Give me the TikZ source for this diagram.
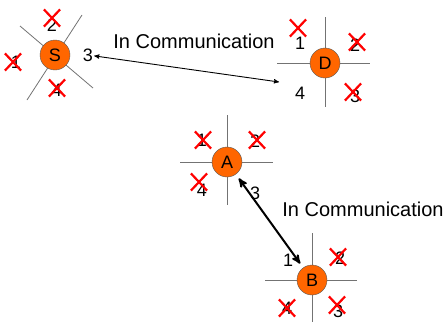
\documentclass[tikz,border=0pt]{standalone}
\usepackage{fontspec}
\setmainfont{Liberation Sans}
\usetikzlibrary{arrows,shapes.misc}
\definecolor{nodeorange}{RGB}{255,102,0}
\tikzset{main node/.style={circle,fill=nodeorange,draw=black!65,minimum size=30pt,inner sep=0pt,font=\fontsize{18}{20}\selectfont},
}

\begin{document}
\begin{tikzpicture}[x=1pt,y=-1pt,<->,>=stealth',
	port/.style={font=\fontsize{18}{20}\selectfont,inner sep=1pt},
	dead/.style={cross out,draw=red,line width=2.2pt,minimum width=14pt,minimum height=15pt,inner sep=0pt},
	wire/.style={-,draw=black!55,line width=0.8pt},
	msg/.style={font=\fontsize{20}{24}\selectfont}]
	\useasboundingbox (0,0) rectangle (446,324);
	
	% port lines
	\draw[wire] (20,26) -- (93,88);
	\draw[wire] (27,100) -- (82,15);
	\draw[wire] (325,17) -- (325,107);
	\draw[wire] (277,63) -- (370,63);
	\draw[wire] (227,115) -- (227,205);
	\draw[wire] (180,162) -- (273,162);
	\draw[wire] (312,233) -- (312,322);
	\draw[wire] (265,280) -- (357,280);
	
	\node[main node] (s) at (55,55) {S};
	\node[main node] (d) at (325,63) {D};
	\node[main node] (a) at (227,162) {A};
	\node[main node] (b) at (312,280) {B};
	
	\node[port] (s1) at (16,62) {1};
	\node[port] (s2) at (52,25) {2};
	\node[port] (s3) at (88,55) {3};
	\node[port] (s4) at (57,90) {4};
	\node[port] (d1) at (300,43) {1};
	\node[port] (d2) at (355,45) {2};
	\node[port] (d3) at (355,96) {3};
	\node[port] (d4) at (300,93) {4};
	\node[port] (a1) at (202,140) {1};
	\node[port] (a2) at (255,141) {2};
	\node[port] (a3) at (255,193) {3};
	\node[port] (a4) at (202,190) {4};
	\node[port] (b1) at (288,260) {1};
	\node[port] (b2) at (340,258) {2};
	\node[port] (b3) at (338,311) {3};
	\node[port] (b4) at (287,308) {4};
	
	% dead ports
	\node[dead] (s1x) at (13,62) {};
	\node[dead] (s2x) at (52,18) {};
	\node[dead] (s4x) at (57,88) {};
	\node[dead] (d1x) at (298,28) {};
	\node[dead] (d2x) at (357,42) {};
	\node[dead] (d3x) at (353,92) {};
	\node[dead] (a1x) at (203,140) {};
	\node[dead] (a2x) at (257,140) {};
	\node[dead] (a4x) at (199,182) {};
	\node[dead] (b2x) at (338,257) {};
	\node[dead] (b3x) at (337,305) {};
	\node[dead] (b4x) at (287,308) {};
	
	\node[msg] (top msg) at (194,41) {In Communication};
	\node[msg] (low msg) at (363,209) {In Communication};
	
	\coordinate (d in) at (279,82);
	\path
	(s3) edge [line width=0.9pt] (d in)
	(a) edge [line width=2pt,shorten <=5pt,shorten >=5pt] (b)
	;
\end{tikzpicture}
\end{document}
